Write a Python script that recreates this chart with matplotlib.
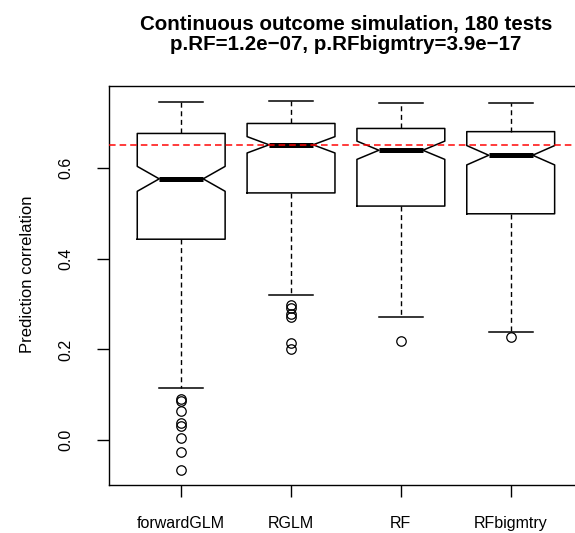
import matplotlib
matplotlib.use('Agg')
import matplotlib.pyplot as plt

plt.rcParams['font.family'] = ['Liberation Sans', 'DejaVu Sans']

# values
methods = ['forwardGLM', 'RGLM', 'RF', 'RFbigmtry']
whis_hi = [0.745, 0.748, 0.744, 0.744]
q3 = [0.676, 0.698, 0.687, 0.680]
medians = [0.576, 0.651, 0.639, 0.628]
q1 = [0.443, 0.545, 0.516, 0.499]
whis_lo = [0.116, 0.321, 0.271, 0.238]
outliers = [
    [0.092, 0.086, 0.065, 0.037, 0.031, 0.006, -0.025, -0.066],
    [0.299, 0.291, 0.279, 0.272, 0.215, 0.201],
    [0.219],
    [0.227],
]
n_tests = 180
yticks = [0.0, 0.2, 0.4, 0.6]
ytick_labels = ['0.0', '0.2', '0.4', '0.6']

# R style notches: median +/- 1.58*IQR/sqrt(n)
stats = []
for i in range(len(methods)):
    half = 1.58 * (q3[i] - q1[i]) / n_tests ** 0.5
    stats.append(dict(med=medians[i], q1=q1[i], q3=q3[i],
                      whislo=whis_lo[i], whishi=whis_hi[i],
                      cilo=medians[i] - half, cihi=medians[i] + half,
                      fliers=outliers[i], label=methods[i]))

fig = plt.figure(figsize=(5.75, 5.33), dpi=100)
ax = fig.add_axes([108.7 / 575, 48 / 533, 474.5 / 575, 399 / 533])

ax.bxp(stats, positions=[1, 2, 3, 4], widths=0.8, shownotches=True,
       boxprops=dict(color='black', lw=1.1),
       whiskerprops=dict(color='black', lw=1.0, linestyle=(0, (3.6, 2.6))),
       capprops=dict(color='black', lw=1.1),
       medianprops=dict(color='black', lw=3.6, solid_capstyle='butt'),
       flierprops=dict(marker='o', markerfacecolor='none', markeredgecolor='black',
                       markersize=6.8, markeredgewidth=0.9))

ax.axhline(medians[1], color='red', alpha=0.75, lw=1.44, linestyle=(0, (3.3, 2)), zorder=5)

lo = min(min(o) for o in outliers)
hi = max(whis_hi)
pad = 0.04 * (hi - lo)
ax.set_ylim(lo - pad, hi + pad)
ax.set_xlim(0.34, 4.66)

ax.set_yticks(yticks)
ax.set_yticklabels(ytick_labels, rotation=90, va='center')
ax.set_xticks([1, 2, 3, 4])
ax.set_xticklabels(methods)
ax.tick_params(axis='both', direction='out', length=8.6, width=1.0, labelsize=11.5)
ax.tick_params(axis='x', pad=14)
ax.tick_params(axis='y', pad=17)
for s in ax.spines.values():
    s.set_linewidth(1.0)

fig.text(27.5 / 575, 1 - 274 / 533, 'Prediction correlation', rotation=90,
         ha='center', va='center', fontsize=12)
fig.text(346 / 575, 1 - 30 / 533, 'Continuous outcome simulation, 180 tests',
         ha='center', va='baseline', fontsize=14.8, fontweight='bold')
fig.text(346 / 575, 1 - 50.5 / 533, 'p.RF=1.2e\u221207, p.RFbigmtry=3.9e\u221217',
         ha='center', va='baseline', fontsize=14.8, fontweight='bold')

fig.savefig('out.png', dpi=100)
